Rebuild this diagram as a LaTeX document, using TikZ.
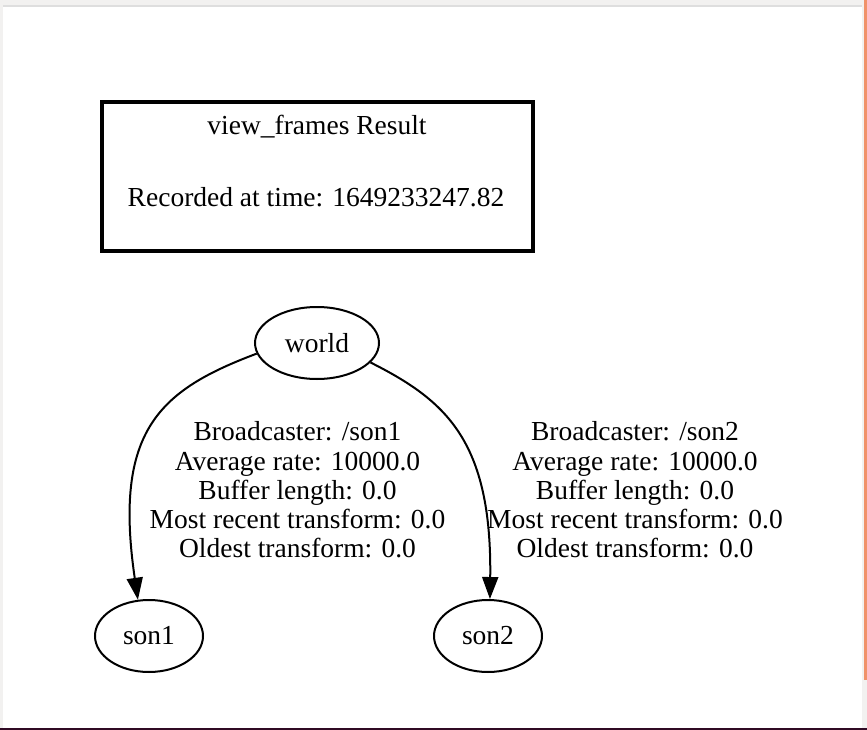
\documentclass[tikz,border=0pt]{standalone}
\usepackage{fontspec}
\setmainfont{Liberation Serif}
\usetikzlibrary{arrows.meta,shapes.geometric}
\definecolor{wingray}{RGB}{242,241,240}
\definecolor{winshadow}{RGB}{222,222,222}
\definecolor{winorange}{RGB}{240,146,106}
\definecolor{aubergine}{RGB}{48,10,36}
\begin{document}
\begin{tikzpicture}[x=1pt,y=-1pt,
  font=\fontsize{27.5}{29.25}\selectfont,
  frameellipse/.style={draw, ellipse, line width=2pt, inner sep=0pt},
  edgeline/.style={line width=2pt, -{Triangle[length=22pt,width=16pt]}},
  lbl/.style={align=center}]
% window background
\fill[wingray] (0,0) rectangle (867,730);
\fill[winshadow] (3,5) rectangle (862,7);
\fill[white] (3,7) rectangle (862,728);
\fill[winorange] (864,0) rectangle (867,680);
\fill[aubergine] (0,728) rectangle (867,730);
\useasboundingbox (0,0) rectangle (867,730);
% title box
\node[draw, line width=4pt, minimum width=431.5pt, minimum height=149pt, inner sep=0pt] (frame) at (317.25,176.5) {};
\node[anchor=base] (title) at (317,135) {view\_frames Result};
\node[anchor=base] (rec) at (316,207) {Recorded at time: 1649233247.82};
% frames
\node[frameellipse, minimum width=124pt, minimum height=72pt] (world) at (317,343) {world};
\node[frameellipse, minimum width=108pt, minimum height=72pt] (son1) at (149,636) {son1};
\node[frameellipse, minimum width=108pt, minimum height=72pt] (son2) at (488,636) {son2};
% edges
\draw[edgeline] (world.190) .. controls (160,390) and (113,430) .. (son1.107);
\draw[edgeline] (world.340) .. controls (445,400) and (492,440) .. (son2.87);
% labels
\node[lbl] (l1) at (297.5,490) {Broadcaster: /son1\\Average rate: 10000.0\\Buffer length: 0.0\\Most recent transform: 0.0\\Oldest transform: 0.0};
\node[lbl] (l2) at (635,490) {Broadcaster: /son2\\Average rate: 10000.0\\Buffer length: 0.0\\Most recent transform: 0.0\\Oldest transform: 0.0};
\end{tikzpicture}
\end{document}
